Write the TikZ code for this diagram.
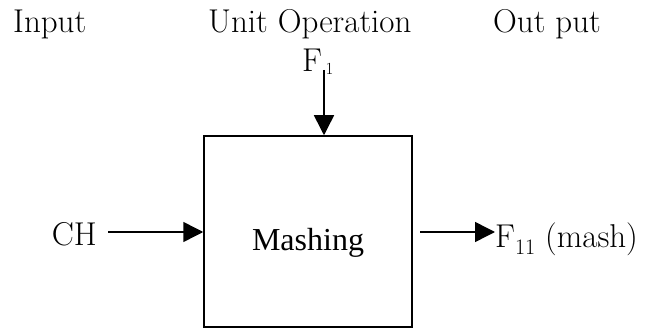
\documentclass[tikz,border=0pt]{standalone}
\usepackage{fontspec}
\newfontfamily\timesfont{Liberation Serif}
\usetikzlibrary{arrows.meta}
\begin{document}
\begin{tikzpicture}[x=1pt,y=-1pt,
  lbl/.style={inner sep=0pt,font=\fontsize{33}{38}\selectfont},
  flow/.style={line width=1.5pt,-{Triangle[length=20pt,width=20pt]}}]
\useasboundingbox (0,0) rectangle (649,329);
% column headings
\node[lbl,anchor=base west] (hin) at (13,33) {Input};
\node[lbl,anchor=base west] (hop) at (208,33) {Unit Operation};
\node[lbl,anchor=base west] (hout) at (493,33) {Out put};
% process block
\node[draw,line width=1.5pt,minimum width=208pt,minimum height=191pt,inner sep=0pt] (box) at (308,231.5) {};
\node[inner sep=0pt,anchor=base,font=\timesfont\fontsize{32}{36}\selectfont] (mash) at (308,250) {Mashing};
% streams
\node[lbl,anchor=base west] (f1) at (302,72) {F\raisebox{-3pt}{\fontsize{17}{17}\selectfont\hspace{3.5pt}1}};
\coordinate (f1s) at (324,70);
\node[lbl,anchor=base east] (ch) at (97,245) {CH};
\node[lbl,anchor=base west] (f11) at (495,247) {F\raisebox{-7pt}{\fontsize{22}{22}\selectfont 11} (mash)};
\coordinate (chs) at (108,232);
\coordinate (outs) at (420,232);
\draw[flow] (f1s) -- (f1s |- box.north);
\draw[flow] (chs) -- (box.west |- chs);
\draw[flow] (outs) -- (f11.west |- outs);
\end{tikzpicture}
\end{document}
